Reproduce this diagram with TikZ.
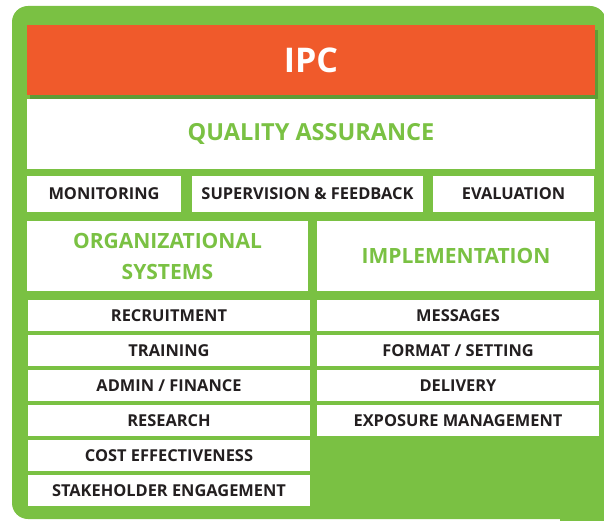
\documentclass[tikz,border=0pt]{standalone}
\usepackage{fontspec}
\setmainfont{Open Sans}

\definecolor{ipcgreen}{HTML}{7AC143}
\definecolor{ipcshadow}{HTML}{5E9C36}
\definecolor{ipcorange}{HTML}{F05A2B}
\definecolor{ipctext}{HTML}{231F20}

\begin{document}
\begin{tikzpicture}[x=1pt,y=-1pt,
    box/.style={fill=white, inner sep=0pt, text=ipctext, font=\bfseries\fontsize{16.4}{18}\selectfont},
    head/.style={box, text=ipcgreen, align=center, font=\bfseries\fontsize{21}{31}\selectfont}]
    \useasboundingbox (0,0) rectangle (604,521);
    \fill[ipcgreen, rounded corners=16pt] (12,6) rectangle (606,519);
    \fill[ipcgreen] (560,480) rectangle (604,521);
    \fill[ipcshadow] (30,30) rectangle (598,99);
    \node[fill=ipcorange, text=white, inner sep=0pt, minimum width=568, minimum height=70,
          font=\bfseries\fontsize{34}{38}\selectfont] (ipc) at (311,60) {IPC};
    \node[head, minimum width=568, minimum height=70,
          font=\bfseries\fontsize{23.5}{28}\selectfont] (qa) at (311,134) {QUALITY ASSURANCE};
    \node[box, minimum width=154, minimum height=36] (mon)  at (104,194) {MONITORING};
    \node[box, minimum width=231, minimum height=36] (sup)  at (307.5,194) {SUPERVISION \& FEEDBACK};
    \node[box, minimum width=161, minimum height=36] (eval) at (513.5,194) {EVALUATION};
    \node[head, minimum width=281, minimum height=70] (org)  at (167.5,256) {ORGANIZATIONAL\\SYSTEMS};
    \node[head, minimum width=278, minimum height=70] (impl) at (456,256) {IMPLEMENTATION};
    \node[box, minimum width=282, minimum height=31] (recr) at (169,315.5) {RECRUITMENT};
    \node[box, minimum width=282, minimum height=31] (trai) at (169,350.5) {TRAINING};
    \node[box, minimum width=282, minimum height=31] (admi) at (169,385.5) {ADMIN / FINANCE};
    \node[box, minimum width=282, minimum height=31] (rese) at (169,420.5) {RESEARCH};
    \node[box, minimum width=282, minimum height=31] (cost) at (169,455.5) {COST EFFECTIVENESS};
    \node[box, minimum width=282, minimum height=31] (stak) at (169,490.5) {STAKEHOLDER ENGAGEMENT};
    \node[box, minimum width=282, minimum height=31] (mess) at (458,315.5) {MESSAGES};
    \node[box, minimum width=282, minimum height=31] (form) at (458,350.5) {FORMAT / SETTING};
    \node[box, minimum width=282, minimum height=31] (deli) at (458,385.5) {DELIVERY};
    \node[box, minimum width=282, minimum height=31] (expo) at (458,420.5) {EXPOSURE MANAGEMENT};
\end{tikzpicture}
\end{document}
